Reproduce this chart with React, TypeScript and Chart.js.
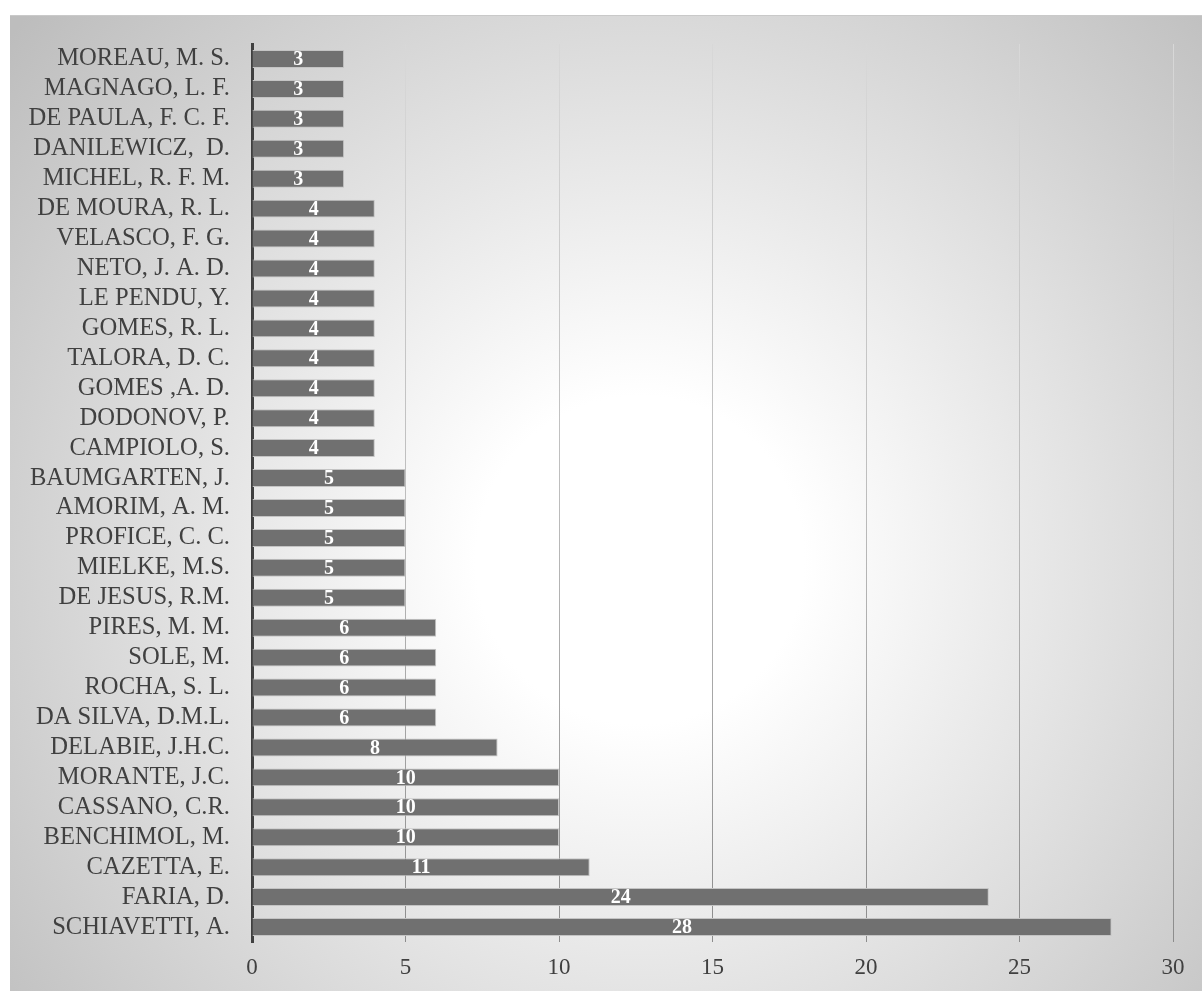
import React, { useEffect, useRef } from "react";
import { Chart, registerables } from "chart.js";

Chart.register(...registerables);

const authors: string[] = [
  "MOREAU, M. S.",
  "MAGNAGO, L. F.",
  "DE PAULA, F. C. F.",
  "DANILEWICZ,  D.",
  "MICHEL, R. F. M.",
  "DE MOURA, R. L.",
  "VELASCO, F. G.",
  "NETO, J. A. D.",
  "LE PENDU, Y.",
  "GOMES, R. L.",
  "TALORA, D. C.",
  "GOMES ,A. D.",
  "DODONOV, P.",
  "CAMPIOLO, S.",
  "BAUMGARTEN, J.",
  "AMORIM, A. M.",
  "PROFICE, C. C.",
  "MIELKE, M.S.",
  "DE JESUS, R.M.",
  "PIRES, M. M.",
  "SOLE, M.",
  "ROCHA, S. L.",
  "DA SILVA, D.M.L.",
  "DELABIE, J.H.C.",
  "MORANTE, J.C.",
  "CASSANO, C.R.",
  "BENCHIMOL, M.",
  "CAZETTA, E.",
  "FARIA, D.",
  "SCHIAVETTI, A.",
];

const publications: number[] = [
  3, 3, 3, 3, 3, 4, 4, 4, 4, 4, 4, 4, 4, 4, 5, 5, 5, 5, 5, 6, 6, 6, 6, 8, 10,
  10, 10, 11, 24, 28,
];

const xTicks: number[] = [0, 5, 10, 15, 20, 25, 30];

const SERIF = '"Liberation Serif", "Times New Roman", serif';

// Radial grey-to-white backdrop behind the whole chart
const backdropPlugin = {
  id: "backdrop",
  beforeDraw(chart: Chart) {
    const { ctx, width, height } = chart;
    const x0 = 10;
    const y0 = 15;
    const cx = 640;
    const cy = 560;
    const g = ctx.createRadialGradient(cx, cy, 0, cx, cy, 820);
    g.addColorStop(0, "#ffffff");
    g.addColorStop(0.2, "#ffffff");
    g.addColorStop(1, "#bdbdbd");
    ctx.save();
    ctx.fillStyle = g;
    ctx.fillRect(x0, y0, width - x0, height - y0);
    ctx.strokeStyle = "#c9c9c9";
    ctx.lineWidth = 1;
    ctx.beginPath();
    ctx.moveTo(x0, y0 + 0.5);
    ctx.lineTo(width, y0 + 0.5);
    ctx.stroke();
    ctx.restore();
  },
};

// White value labels centred on each bar
const valueLabelPlugin = {
  id: "valueLabels",
  afterDatasetsDraw(chart: Chart) {
    const { ctx } = chart;
    const meta = chart.getDatasetMeta(0);
    const values = chart.data.datasets[0].data as number[];
    ctx.save();
    ctx.fillStyle = "#ffffff";
    ctx.font = `bold 20px ${SERIF}`;
    ctx.textAlign = "center";
    ctx.textBaseline = "middle";
    meta.data.forEach((bar: any, i: number) => {
      const cx = (bar.base + bar.x) / 2;
      ctx.fillText(String(values[i]), cx, bar.y + 1);
    });
    ctx.restore();
  },
};

export default function App() {
  const canvasRef = useRef<HTMLCanvasElement | null>(null);

  useEffect(() => {
    if (!canvasRef.current) return;
    const chart = new Chart(canvasRef.current, {
      type: "bar",
      data: {
        labels: authors,
        datasets: [
          {
            data: publications,
            backgroundColor: "#707070",
            borderColor: "#c4c4c4",
            borderWidth: 1,
            barPercentage: 0.6,
            categoryPercentage: 1,
          },
        ],
      },
      options: {
        indexAxis: "y",
        responsive: false,
        animation: false,
        layout: { padding: { top: 44, right: 29, bottom: 0, left: 0 } },
        plugins: {
          legend: { display: false },
          tooltip: { enabled: false },
        },
        scales: {
          x: {
            min: 0,
            max: 30,
            afterBuildTicks(scale: any) {
              scale.ticks = xTicks.map((v) => ({ value: v }));
            },
            afterFit(scale: any) {
              scale.height = 49;
            },
            grid: {
              drawTicks: false,
              color: (c: any) => {
                const area = c.chart.chartArea;
                if (!area) return "#a0a0a0";
                const g = c.chart.ctx.createLinearGradient(0, area.top, 0, area.bottom);
                g.addColorStop(0, "#d8d8d8");
                g.addColorStop(0.5, "#bdbdbd");
                g.addColorStop(1, "#8c8c8c");
                return g;
              },
              lineWidth: 1,
            },
            border: { display: false },
            ticks: {
              padding: 12,
              color: "#404040",
              font: { family: SERIF, size: 23 },
            },
          },
          y: {
            afterFit(scale: any) {
              scale.width = 252;
            },
            grid: { display: false, drawTicks: false },
            border: { display: true, color: "#404040", width: 3 },
            ticks: {
              padding: 22,
              color: "#404040",
              autoSkip: false,
              font: { family: SERIF, size: 24.6 },
            },
          },
        },
      },
      plugins: [backdropPlugin, valueLabelPlugin],
    });
    return () => chart.destroy();
  }, []);

  return (
    <div style={{ position: "absolute", left: 0, top: 0, width: 1202, height: 991 }}>
      <canvas ref={canvasRef} width={1202} height={991} />
    </div>
  );
}
